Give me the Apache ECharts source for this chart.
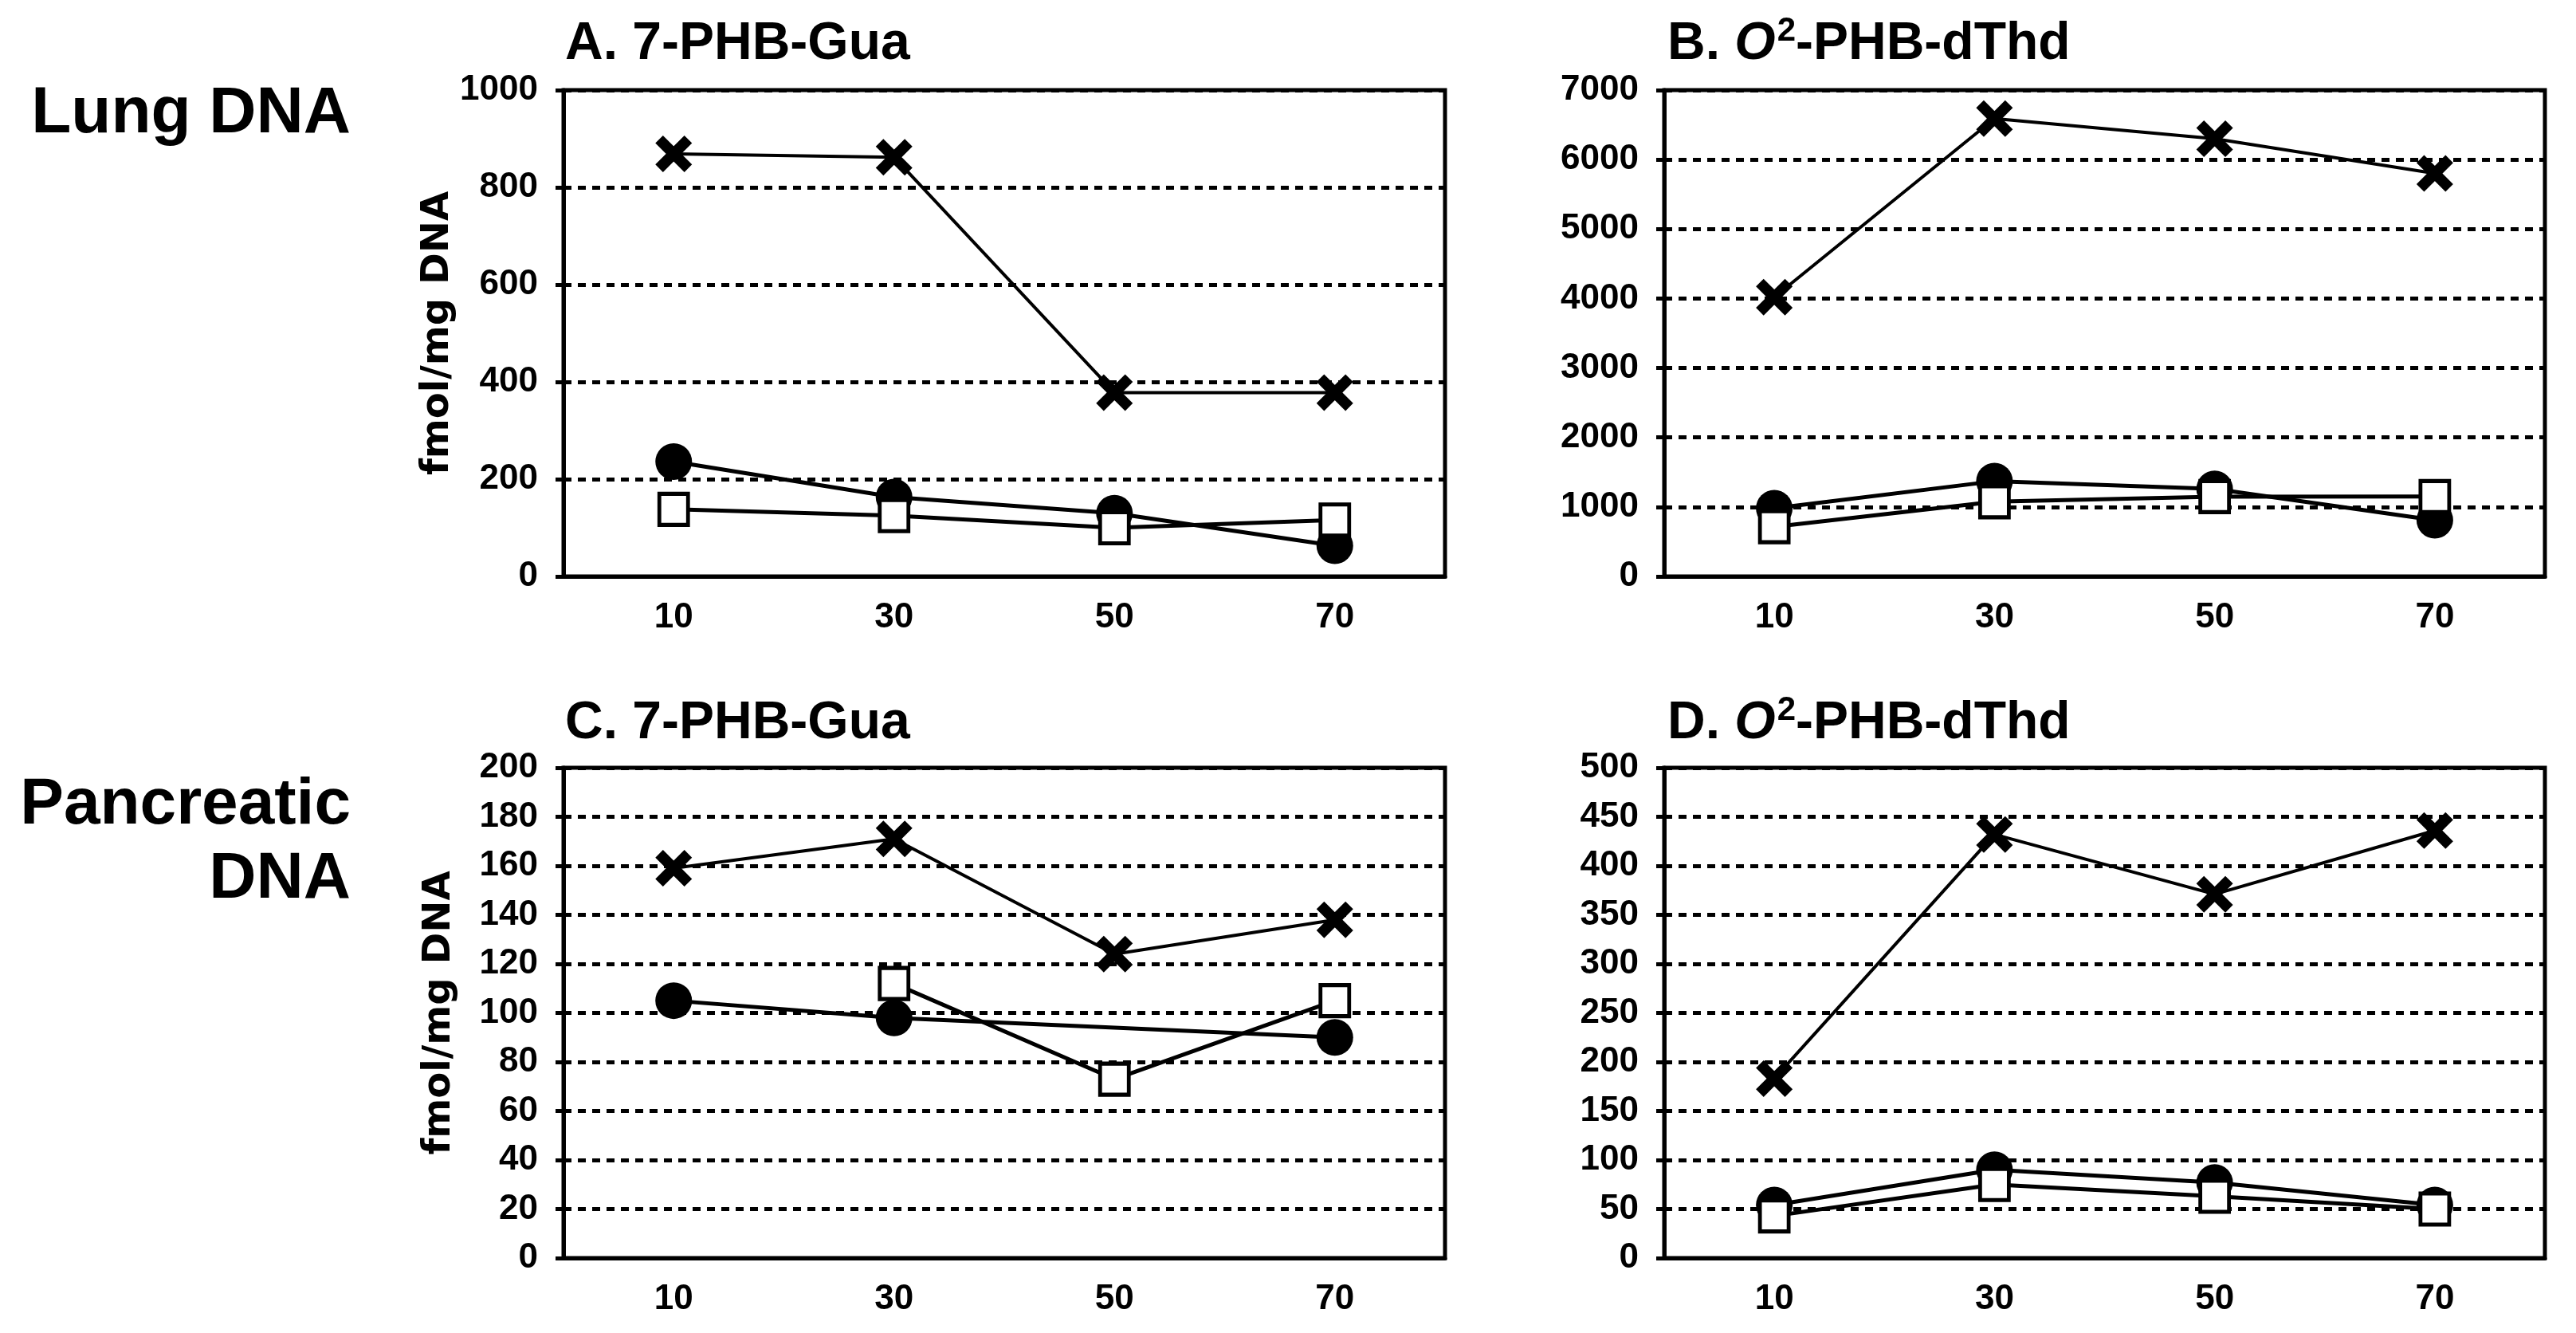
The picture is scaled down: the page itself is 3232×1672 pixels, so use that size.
<!DOCTYPE html>
<html>
<head>
<meta charset="utf-8">
<script src="https://cdn.jsdelivr.net/npm/echarts@6/dist/echarts.min.js"></script>
<style>
html,body{margin:0;padding:0;background:#fff;}
#chart{width:3232px;height:1672px;}
</style>
</head>
<body>
<div id="chart"></div>
<script>
// ---- data ----
const categories = ['10', '30', '50', '70'];

const lungGuaX = [869, 862, 378, 378];
const lungGuaCircle = [236, 163, 130, 63];
const lungGuaSquare = [138, 125, 100, 116];

const lungThdX = [4020, 6590, 6300, 5800];
const lungThdCircle = [980, 1370, 1260, 810];
const lungThdSquare = [715, 1075, 1148, 1150];

const pancGuaX = [159, 171, 124, 138];
const pancGuaCircle = [105, 98, null, 90];
const pancGuaSquare = [null, 112, 73, 105];

const pancThdX = [183, 432, 371, 436];
const pancThdCircle = [54, 90, 77, 54];
const pancThdSquare = [43, 75, 63, 50];

const yMax = [1000, 7000, 200, 500];
const yInterval = [200, 1000, 20, 50];
const yAxisName = 'fmol/mg DNA';

// ---- layout ----
const grids = [
  {left: 707, top: 113, width: 1106, height: 610},
  {left: 2088, top: 113, width: 1105, height: 610},
  {left: 707, top: 963, width: 1106, height: 615},
  {left: 2088, top: 963, width: 1105, height: 615}
];
const FONT = 'Liberation Sans, Arial, sans-serif';
const xPath = 'path://M22,2L98,78L78,98L2,22Z M78,2L98,22L22,98L2,78Z';

const panelData = [
  [lungGuaX, lungGuaCircle, lungGuaSquare],
  [lungThdX, lungThdCircle, lungThdSquare],
  [pancGuaX, pancGuaCircle, pancGuaSquare],
  [pancThdX, pancThdCircle, pancThdSquare]
];

const option = {
  backgroundColor: '#fff',
  animation: false,
  grid: grids.map(g => Object.assign({show: true, borderColor: '#000', borderWidth: 5, backgroundColor: 'transparent'}, g)),
  xAxis: grids.map((g, i) => ({
    type: 'category', gridIndex: i, data: categories, boundaryGap: true,
    axisLine: {lineStyle: {color: '#000', width: 5}},
    axisTick: {show: false},
    axisLabel: {color: '#000', fontFamily: FONT, fontWeight: 'bold', fontSize: 44, margin: 30},
    splitLine: {show: false}
  })),
  yAxis: grids.map((g, i) => ({
    type: 'value', gridIndex: i, min: 0, max: yMax[i], interval: yInterval[i],
    name: (i === 0 || i === 2) ? yAxisName : '',
    nameLocation: 'middle', nameGap: 131, nameRotate: 90,
    nameTextStyle: {color: '#000', fontFamily: 'DejaVu Sans', fontWeight: 'bold', fontSize: 48},
    axisLine: {show: true, lineStyle: {color: '#000', width: 5}},
    axisTick: {show: true, inside: false, length: 10, lineStyle: {color: '#000', width: 5}},
    axisLabel: {color: '#000', fontFamily: FONT, fontWeight: 'bold', fontSize: 44, margin: 32,
      formatter: v => String(v)},
    splitLine: {show: true, lineStyle: {color: '#000', width: 5, type: [10, 8]}}
  })),
  series: [],
  graphic: []
};

panelData.forEach((arr, i) => {
  option.series.push({
    type: 'line', xAxisIndex: i, yAxisIndex: i, data: arr[0],
    symbol: xPath, symbolSize: 46, symbolKeepAspect: true,
    itemStyle: {color: '#000'}, lineStyle: {color: '#000', width: 4}, z: 3
  });
  option.series.push({
    type: 'line', xAxisIndex: i, yAxisIndex: i, data: arr[1], connectNulls: true,
    symbol: 'circle', symbolSize: 46,
    itemStyle: {color: '#000'}, lineStyle: {color: '#000', width: 5}, z: 4
  });
  option.series.push({
    type: 'line', xAxisIndex: i, yAxisIndex: i, data: arr[2], connectNulls: true,
    symbol: 'rect', symbolSize: [36, 39],
    itemStyle: {color: '#fff', borderColor: '#000', borderWidth: 5}, lineStyle: {color: '#000', width: 5}, z: 5
  });
});

// titles
const titleRich = {
  b: {fontFamily: FONT, fontWeight: 'bold', fontSize: 66, fill: '#000', lineHeight: 76},
  i: {fontFamily: FONT, fontWeight: 'bold', fontStyle: 'italic', fontSize: 66, fill: '#000', lineHeight: 76},
  s: {fontFamily: FONT, fontWeight: 'bold', fontSize: 42, fill: '#000', lineHeight: 76, verticalAlign: 'top', padding: [0, 0, 0, 2]}
};
const titles = [
  {x: 709, y: 56, text: '{b|A. 7-PHB-Gua}'},
  {x: 2092, y: 56, text: '{b|B. }{i|O}{s|2}{b|-PHB-dThd}'},
  {x: 709, y: 908, text: '{b|C. 7-PHB-Gua}'},
  {x: 2092, y: 908, text: '{b|D. }{i|O}{s|2}{b|-PHB-dThd}'}
];
titles.forEach(t => {
  option.graphic.push({
    type: 'text', x: t.x, y: t.y,
    style: {text: t.text, rich: titleRich, textAlign: 'left', textVerticalAlign: 'middle'}
  });
});
// row labels
option.graphic.push({
  type: 'text', x: 440, y: 143,
  style: {text: 'Lung DNA', fill: '#000', font: 'bold 82px Liberation Sans, Arial, sans-serif', textAlign: 'right', textVerticalAlign: 'middle'}
});
option.graphic.push({
  type: 'text', x: 440, y: 1010,
  style: {text: 'Pancreatic', fill: '#000', font: 'bold 82px Liberation Sans, Arial, sans-serif', textAlign: 'right', textVerticalAlign: 'middle'}
});
option.graphic.push({
  type: 'text', x: 440, y: 1103,
  style: {text: 'DNA', fill: '#000', font: 'bold 82px Liberation Sans, Arial, sans-serif', textAlign: 'right', textVerticalAlign: 'middle'}
});

const chart = echarts.init(document.getElementById('chart'), null, {renderer: 'canvas'});
chart.setOption(option);
</script>
</body>
</html>
